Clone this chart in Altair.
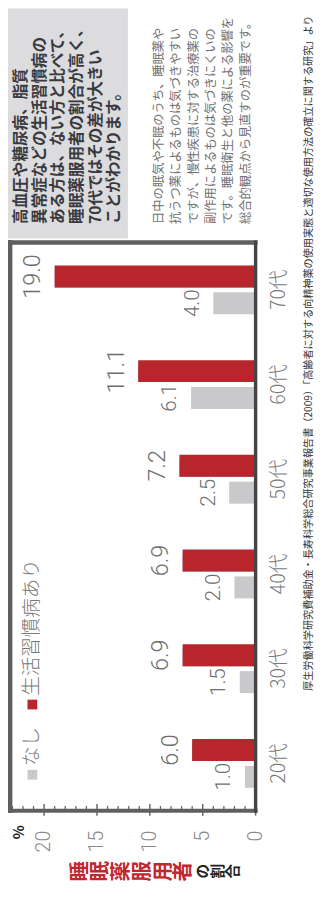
import altair as alt
import pandas as pd

# ---- data ----
ages = ["20代", "30代", "40代", "50代", "60代", "70代"]
with_disease = [6.0, 6.9, 6.9, 7.2, 11.1, 19.0]
without_disease = [1.0, 1.5, 2.0, 2.5, 6.1, 4.0]
series_names = ["生活習慣病あり", "なし"]
series_colors = ["#b8252d", "#c9c9cb"]
x_tick_values = [0, 5, 10, 15, 20]
minor_tick_values = [v for v in range(1, 24) if v % 5]

box_lines = ["　高血圧や糖尿病、脂質", "異常症などの生活習慣病の", "ある方は、ない方と比べて、",
             "睡眠薬服用者の割合が高く、", "70代ではその差が大きい", "ことがわかります。"]
note_lines = ["日中の眠気や不眠のうち、睡眠薬や", "抗うつ薬によるものは気づきやすい",
              "ですが、慢性疾患に対する治療薬の", "副作用によるものは気づきにくいの",
              "です。睡眠衛生と他の薬による影響を", "総合的観点から見直すのが重要です。"]
source_text = "厚生労働科学研究費補助金・長寿科学総合研究事業報告書（2009）「高齢者に対する向精神薬の使用実態と適切な使用方法の確立に関する研究」より"
title_main = "睡眠薬服用者"
title_sub = "の割合"
unit_label = "%"

FONT = "Noto Sans CJK JP"
NUMFONT = "Roboto"
W, H = 252, 583
FRAME = "#5f5f5f"

df = pd.DataFrame({
    "age": ages * 2,
    "series": [series_names[0]] * len(ages) + [series_names[1]] * len(ages),
    "value": with_disease + without_disease,
})

x_enc = alt.X("value:Q",
              scale=alt.Scale(domain=[0, 23.23], reverse=True, nice=False, zero=True),
              axis=alt.Axis(values=x_tick_values, labelAngle=270, labelAlign="right",
                            labelBaseline="middle", labelPadding=20, labelFontSize=20,
                            labelColor="#8a8a8a", labelFont=NUMFONT, labelFontWeight=300,
                            domain=False, ticks=False, grid=False, title=None,
                            labelFlush=False, labelOverlap=False))
y_enc = alt.Y("age:N", sort=ages[::-1],
              scale=alt.Scale(paddingInner=0, paddingOuter=0),
              axis=alt.Axis(orient="right", labelAngle=270, labelAlign="center",
                            labelBaseline="top", labelPadding=14, labelFontSize=20,
                            labelColor="#7a7a7a", labelFont=FONT, labelFontWeight=300,
                            domain=False, ticks=False, grid=False, title=None,
                            labelOverlap=False))
yoff_enc = alt.YOffset("series:N", sort=series_names,
                       scale=alt.Scale(paddingInner=0.18, paddingOuter=0.857))

base = alt.Chart(df)

shadow_grad = alt.LinearGradient(
    gradient="linear",
    stops=[alt.GradientStop(color="#ffffff", offset=0),
           alt.GradientStop(color="#8e8e8e", offset=0.32),
           alt.GradientStop(color="#8e8e8e", offset=1)],
    x1=0, x2=0, y1=0, y2=1)

shadow = base.transform_filter(alt.datum.series == series_names[0]).mark_bar(
    yOffset=-7, color=shadow_grad).encode(x=x_enc, y=y_enc, yOffset=yoff_enc)

bars = base.mark_bar().encode(
    x=x_enc, y=y_enc, yOffset=yoff_enc,
    color=alt.Color("series:N", scale=alt.Scale(domain=series_names, range=series_colors), legend=None),
)

values = base.mark_text(angle=270, align="center", baseline="alphabetic", dy=-15,
                        font=NUMFONT, fontWeight=300, color="#6e6e6e").encode(
    x=x_enc, y=y_enc, yOffset=yoff_enc,
    text=alt.Text("value:Q", format=".1f"),
    size=alt.Size("series:N", scale=alt.Scale(domain=series_names, range=[24, 21]), legend=None),
)

one = pd.DataFrame({"k": [0]})

minor_ticks = alt.Chart(pd.DataFrame({"t": minor_tick_values})).mark_rule(
    color="#666666", strokeWidth=1.3).encode(x="t:Q", y=alt.value(H - 5), y2=alt.value(H))
major_ticks = alt.Chart(pd.DataFrame({"t": x_tick_values})).mark_rule(
    color="#666666", strokeWidth=1.5).encode(x="t:Q", y=alt.value(H - 7), y2=alt.value(H + 5))
zero_line = alt.Chart(pd.DataFrame({"t": [0]})).mark_rule(
    color="#454545", strokeWidth=3.5).encode(x="t:Q", y=alt.value(-2), y2=alt.value(H + 2))
frame_left = alt.Chart(one).mark_rule(color=FRAME, strokeWidth=5).encode(
    x=alt.value(0), y=alt.value(-2.5), y2=alt.value(H + 2))
frame_top = alt.Chart(one).mark_rule(color=FRAME, strokeWidth=4.5).encode(
    x=alt.value(-2.5), x2=alt.value(W + 2), y=alt.value(0))
frame_bottom = alt.Chart(one).mark_rule(color=FRAME, strokeWidth=4).encode(
    x=alt.value(-2.5), x2=alt.value(W + 2), y=alt.value(H))


def text_at(txt, x, y, **kw):
    return alt.Chart(one).mark_text(text=txt, angle=270, **kw).encode(
        x=alt.value(x), y=alt.value(y))


def lines_at(lines, x0, step, y, **kw):
    # one rotated text mark per line; lines advance to the right
    return [text_at(s, x0 + i * step, y, **kw) for i, s in enumerate(lines)]


box = alt.Chart(one).mark_rect(color="#dcdcde").encode(
    x=alt.value(-10), x2=alt.value(121), y=alt.value(-240), y2=alt.value(-4))

box_text = lines_at(box_lines, 11.5, 19.1, -19, align="left", baseline="middle",
                    fontSize=16, fontWeight="bold", color="#383a40", font=FONT)
note_text = lines_at(note_lines, 153, 17.8, -19, align="left", baseline="middle",
                     fontSize=12.6, color="#707070", font=FONT)
source = text_at(source_text, 307, 460, align="left", baseline="middle", fontSize=10.4,
                 color="#333333", font=FONT)

leg_sq_gray = alt.Chart(one).mark_square(size=100, color=series_colors[1], opacity=1).encode(
    x=alt.value(23), y=alt.value(546))
leg_sq_red = alt.Chart(one).mark_square(size=100, color=series_colors[0], opacity=1).encode(
    x=alt.value(23), y=alt.value(474))
leg_gray = text_at(series_names[1], 23, 537, align="left", baseline="middle", fontSize=20,
                   color="#777777", font=FONT, fontWeight=300)
leg_red = text_at(series_names[0], 23, 465, align="left", baseline="middle", fontSize=20,
                  color="#777777", font=FONT, fontWeight=300)

title_a = lines_at(list(title_main), 72.6, 21.3, 645, align="center", baseline="middle",
                   fontSize=21, fontWeight="bold", color="#c0272e", font=FONT)
title_b = lines_at(list(title_sub), 197.8, 15.7, 645, align="center", baseline="middle",
                   fontSize=15, fontWeight="bold", color="#222222", font=FONT)
unit = text_at(unit_label, 9, 605, align="center", baseline="middle", fontSize=15,
               fontWeight="bold", color="#222222", font=FONT)

layers = ([box] + box_text + note_text + [source, shadow, bars, values,
          minor_ticks, major_ticks, frame_left, frame_top, frame_bottom, zero_line,
          leg_sq_gray, leg_sq_red, leg_gray, leg_red] + title_a + title_b + [unit])

chart = alt.layer(*layers).properties(
    width=W, height=H,
    padding={"left": 2, "top": 229, "right": 64, "bottom": 79},
    autosize=alt.AutoSizeParams(type="none"),
    background="white",
).configure_view(stroke=None).configure(font=FONT)

chart.save("out.html", embed_options={"renderer": "svg", "actions": False})
